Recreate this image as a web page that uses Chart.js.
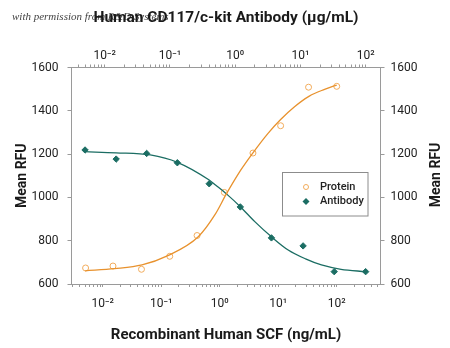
<!DOCTYPE html>
<html>
<head>
<meta charset="utf-8">
<script src="https://cdn.jsdelivr.net/npm/chart.js@4.4.1/dist/chart.umd.min.js"></script>
<style>
  body { margin: 0; background: #fff; }
  #wrap { width: 450px; height: 348px; position: relative; }
</style>
</head>
<body>
<div id="wrap"><canvas id="rfuChart"></canvas></div>
<script>
// measured points (3-fold dilutions)
const proteinConc = [0.0051, 0.015, 0.046, 0.14, 0.41, 1.2, 3.7, 11, 33, 100];     // ng/mL SCF
const proteinRFU = [674, 683, 668, 728, 824, 1023, 1205, 1331, 1509, 1513];
const antibodyConc = [0.005, 0.015, 0.044, 0.13, 0.4, 1.2, 3.6, 11, 33, 100];      // ug/mL antibody
const antibodyRFU = [1219, 1177, 1203, 1160, 1063, 956, 813, 776, 657, 657];

// fitted curves
const proteinFitConc = [0.005, 0.016, 0.047, 0.13, 0.43, 0.83, 1.3, 2.3, 3.7, 6.7, 11, 19, 34, 62, 100];
const proteinFitRFU = [661, 671, 688, 731, 818, 920, 1016, 1127, 1206, 1296, 1360, 1419, 1468, 1499, 1519];
const antibodyFitConc = [0.005, 0.015, 0.05, 0.13, 0.4, 0.5, 0.75, 1.2, 2, 3.6, 6.5, 12, 21, 42, 100];
const antibodyFitRFU = [1211, 1206, 1196, 1162, 1080, 1057, 1014, 957, 888, 818, 757, 716, 688, 668, 657];

// axis ticks
const decadeValues = [0.01, 0.1, 1, 10, 100];
const decadeLabels = ['10⁻²', '10⁻¹', '10⁰', '10¹', '10²'];
const minorSteps = [1, 2, 3, 4, 5, 6, 7, 8, 9];
const yTicks = [600, 800, 1000, 1200, 1400, 1600];

const FONT = "'Liberation Sans Narrow', Roboto, sans-serif";
const TEAL = '#1b6d63';
const ORANGE = '#e8922e';
const ORANGE_LIGHT = '#f2ac5c';
const AXIS = '#9a9a9a';

function toXY(xs, ys) {
    return xs.map((x, i) => ({ x: x, y: ys[i] }));
}

function logTicks(scale) {
    const out = [];
    for (let e = -4; e <= 3; e++) {
        minorSteps.forEach(m => {
            const v = Number((m * Math.pow(10, e)).toPrecision(6));
            if (v >= scale.min && v <= scale.max) out.push({ value: v, major: m === 1 });
        });
    }
    scale.ticks = out;
}

function decadeLabel(value) {
    const i = decadeValues.indexOf(Number(value));
    return i >= 0 ? decadeLabels[i] : '';
}

// legend box inside the plot, right title reading upward, faint watermark
const extras = {
    id: 'extras',
    beforeDraw(chart) {
        const ctx = chart.ctx;
        ctx.save();
        ctx.font = "italic 11px 'Liberation Serif', serif";
        ctx.fillStyle = '#444';
        ctx.textBaseline = 'alphabetic';
        ctx.fillText('with permission from R&D Systems', 12, 20);
        ctx.restore();
    },
    afterDraw(chart) {
        const ctx = chart.ctx;
        ctx.save();
        // right axis title
        ctx.translate(436, 175);
        ctx.rotate(-Math.PI / 2);
        ctx.font = 'bold 14px ' + FONT;
        ctx.fillStyle = '#1a1a1a';
        ctx.textAlign = 'center';
        ctx.textBaseline = 'middle';
        ctx.fillText('Mean RFU', 0, 0);
        ctx.restore();

        ctx.save();
        ctx.strokeStyle = '#8c8c8c';
        ctx.lineWidth = 1;
        ctx.strokeRect(282.5, 172.5, 85.5, 43.5);
        // protein marker
        ctx.beginPath();
        ctx.arc(306, 187, 2.5, 0, Math.PI * 2);
        ctx.strokeStyle = ORANGE_LIGHT;
        ctx.stroke();
        // antibody marker
        ctx.beginPath();
        ctx.moveTo(306, 198);
        ctx.lineTo(309.5, 201.5);
        ctx.lineTo(306, 205);
        ctx.lineTo(302.5, 201.5);
        ctx.closePath();
        ctx.fillStyle = TEAL;
        ctx.fill();
        ctx.font = '500 11px ' + FONT;
        ctx.fillStyle = '#222';
        ctx.textBaseline = 'middle';
        ctx.fillText('Protein', 320, 187);
        ctx.fillText('Antibody', 320, 201.5);
        ctx.restore();
    }
};

const ctx = document.getElementById('rfuChart').getContext('2d');
new Chart(ctx, {
    type: 'scatter',
    data: {
        datasets: [
            {
                label: 'Protein fit',
                type: 'line',
                data: toXY(proteinFitConc, proteinFitRFU),
                xAxisID: 'x',
                borderColor: ORANGE,
                borderWidth: 1.3,
                pointRadius: 0,
                cubicInterpolationMode: 'monotone',
                fill: false
            },
            {
                label: 'Antibody fit',
                type: 'line',
                data: toXY(antibodyFitConc, antibodyFitRFU),
                xAxisID: 'x2',
                borderColor: TEAL,
                borderWidth: 1.3,
                pointRadius: 0,
                cubicInterpolationMode: 'monotone',
                fill: false
            },
            {
                label: 'Protein',
                data: toXY(proteinConc, proteinRFU),
                xAxisID: 'x',
                pointStyle: 'circle',
                pointRadius: 3,
                borderWidth: 1,
                borderColor: ORANGE_LIGHT,
                backgroundColor: 'rgba(255,255,255,0)'
            },
            {
                label: 'Antibody',
                data: toXY(antibodyConc, antibodyRFU),
                xAxisID: 'x2',
                pointStyle: 'rectRot',
                pointRadius: 3.2,
                borderWidth: 1,
                borderColor: TEAL,
                backgroundColor: TEAL
            }
        ]
    },
    options: {
        responsive: true,
        maintainAspectRatio: false,
        animation: false,
        layout: { padding: 0 },
        plugins: { legend: { display: false }, tooltip: { enabled: false } },
        scales: {
            x: {
                type: 'logarithmic',
                position: 'bottom',
                min: 0.00293,
                max: 560,
                afterBuildTicks: logTicks,
                afterFit: (s) => { s.height = 64; },
                border: { color: AXIS },
                grid: { drawOnChartArea: false, tickLength: 3, tickColor: AXIS },
                ticks: {
                    callback: decadeLabel,
                    autoSkip: false,
                    maxRotation: 0,
                    padding: 10,
                    color: '#222',
                    font: { family: FONT, size: 12 }
                },
                title: {
                    display: true,
                    text: 'Recombinant Human SCF (ng/mL)',
                    color: '#1a1a1a',
                    padding: { top: 0, bottom: 4 },
                    font: { family: FONT, size: 15, weight: 'bold' }
                }
            },
            x2: {
                type: 'logarithmic',
                position: 'top',
                min: 0.0031,
                max: 169,
                afterBuildTicks: logTicks,
                afterFit: (s) => { s.height = 67.5; },
                border: { color: AXIS },
                grid: { drawOnChartArea: false, tickLength: 3, tickColor: AXIS },
                ticks: {
                    callback: decadeLabel,
                    autoSkip: false,
                    maxRotation: 0,
                    padding: 1,
                    color: '#222',
                    font: { family: FONT, size: 12 }
                },
                title: {
                    display: true,
                    text: 'Human CD117/c-kit Antibody (µg/mL)',
                    color: '#1a1a1a',
                    padding: { top: 9, bottom: 0 },
                    font: { family: FONT, size: 15.5, weight: 'bold' }
                }
            },
            y: {
                position: 'left',
                min: 600,
                max: 1600,
                afterBuildTicks: (s) => { s.ticks = yTicks.map(v => ({ value: v })); },
                afterFit: (s) => { s.width = 71.5; },
                border: { color: AXIS },
                grid: { drawOnChartArea: false, tickLength: 4, tickColor: AXIS },
                ticks: {
                    callback: (v) => String(v),
                    padding: 9,
                    color: '#222',
                    font: { family: FONT, size: 12 }
                },
                title: {
                    display: true,
                    text: 'Mean RFU',
                    color: '#1a1a1a',
                    padding: { top: 14, bottom: 0 },
                    font: { family: FONT, size: 14, weight: 'bold' }
                }
            },
            y2: {
                position: 'right',
                min: 600,
                max: 1600,
                afterBuildTicks: (s) => { s.ticks = yTicks.map(v => ({ value: v })); },
                afterFit: (s) => { s.width = 69.5; },
                border: { color: AXIS },
                grid: { drawOnChartArea: false, tickLength: 4, tickColor: AXIS },
                ticks: {
                    callback: (v) => String(v),
                    padding: 6,
                    color: '#222',
                    font: { family: FONT, size: 12 }
                }
            }
        }
    },
    plugins: [extras]
});
</script>
</body>
</html>
